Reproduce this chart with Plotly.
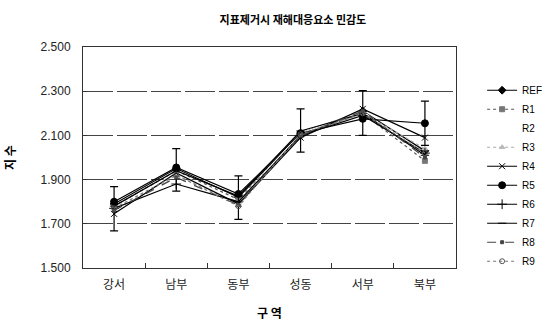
import plotly.graph_objects as go

# Districts on the x axis
districts = ["강서", "남부", "동부", "성동", "서부", "북부"]

# Sensitivity index per scenario
ref = [1.79, 1.95, 1.82, 2.11, 2.21, 2.03]
r1 = [1.78, 1.94, 1.81, 2.10, 2.20, 1.985]
r2 = [1.77, 1.93, 1.80, 2.11, 2.21, 2.00]
r3 = [1.76, 1.92, 1.79, 2.10, 2.20, 2.04]
r4 = [1.745, 1.93, 1.79, 2.09, 2.22, 2.09]
r5 = [1.80, 1.955, 1.835, 2.11, 2.175, 2.155]
r6 = [1.77, 1.88, 1.80, 2.10, 2.19, 2.02]
r7 = [1.78, 1.94, 1.825, 2.12, 2.20, 2.01]
r8 = [1.76, 1.91, 1.785, 2.10, 2.21, 2.00]
r9 = [1.77, 1.92, 1.78, 2.105, 2.20, 2.02]

# Range bounds drawn as error bars on REF
range_upper = [1.868, 2.040, 1.917, 2.220, 2.303, 2.255]
range_lower = [1.668, 1.848, 1.720, 2.024, 2.100, 2.055]

series_names = ["REF", "R1", "R2", "R3", "R4", "R5", "R6", "R7", "R8", "R9"]
series_values = [ref, r1, r2, r3, r4, r5, r6, r7, r8, r9]

styles = {
    "REF": dict(color="black", dash="solid", symbol="diamond", msize=6, mcolor="black"),
    "R1": dict(color="#555555", dash="dot", symbol="square", msize=5, mcolor="#777777"),
    "R2": dict(color="white", dash="solid", symbol="circle", msize=1, mcolor="white"),
    "R3": dict(color="#aaaaaa", dash="dot", symbol="triangle-up", msize=5, mcolor="#bbbbbb"),
    "R4": dict(color="black", dash="solid", symbol="x-thin-open", msize=6, mcolor="black"),
    "R5": dict(color="black", dash="solid", symbol="circle", msize=7, mcolor="black"),
    "R6": dict(color="black", dash="solid", symbol="cross-thin-open", msize=7, mcolor="black"),
    "R7": dict(color="black", dash="solid", symbol="line-ew-open", msize=6, mcolor="black"),
    "R8": dict(color="#444444", dash="dash", symbol="square", msize=3, mcolor="#444444"),
    "R9": dict(color="#777777", dash="dot", symbol="circle-open", msize=5, mcolor="#555555"),
}

fig = go.Figure()
for name, vals in zip(series_names, series_values):
    s = styles[name]
    kw = {}
    if name == "REF":
        kw["error_y"] = dict(
            type="data",
            symmetric=False,
            array=[u - v for u, v in zip(range_upper, vals)],
            arrayminus=[v - l for v, l in zip(vals, range_lower)],
            color="black",
            thickness=1.2,
            width=4,
        )
    fig.add_trace(
        go.Scatter(
            x=districts,
            y=vals,
            name=name,
            mode="lines+markers",
            line=dict(color=s["color"], width=1.2, dash=s["dash"]),
            marker=dict(symbol=s["symbol"], size=s["msize"], color=s["mcolor"],
                        line=dict(color=s["mcolor"], width=1)),
            **kw,
        )
    )

font_family = "Liberation Sans, Arial, Noto Sans CJK KR, sans-serif"
kr_family = "Noto Sans CJK KR, sans-serif"

fig.update_layout(
    width=559,
    height=329,
    margin=dict(l=83, r=78, t=47, b=61),
    paper_bgcolor="white",
    plot_bgcolor="white",
    font=dict(family=font_family, size=12, color="black"),
    title=dict(
        text="지표제거시 재해대응요소 민감도",
        x=0.524, xanchor="center", y=0.94, yanchor="middle",
        font=dict(family=kr_family, size=11, color="black", weight="bold"),
    ),
    showlegend=True,
    legend=dict(
        x=1.07, xanchor="left", y=0.87, yanchor="top",
        font=dict(size=10, color="black"),
        tracegroupgap=0,
        itemwidth=30,
        bgcolor="rgba(0,0,0,0)",
    ),
    xaxis=dict(
        type="category",
        range=[-0.5, 5.5],
        automargin=False,
        showgrid=False,
        showline=True,
        linecolor="#333333",
        linewidth=1,
        mirror=True,
        ticks="inside",
        tickson="boundaries",
        ticklen=5,
        tickcolor="#333333",
        ticklabelstandoff=6,
        tickfont=dict(family=kr_family, size=12, color="#222222"),
        title=dict(text="구 역", standoff=18,
                   font=dict(family=kr_family, size=12, weight="bold")),
    ),
    yaxis=dict(
        range=[1.5, 2.5],
        automargin=False,
        dtick=0.2,
        tick0=1.5,
        tickformat=".3f",
        showgrid=True,
        gridcolor="#444444",
        griddash="30px,4px",
        gridwidth=1,
        showline=True,
        linecolor="#333333",
        linewidth=1,
        mirror=True,
        ticks="inside",
        ticklen=4,
        tickcolor="#333333",
        ticklabelstandoff=9,
        zeroline=False,
        tickfont=dict(size=12, color="#222222"),
        title=dict(text="지 수", standoff=22,
                   font=dict(family=kr_family, size=12, weight="bold")),
    ),
)

fig.write_html("out.html")
